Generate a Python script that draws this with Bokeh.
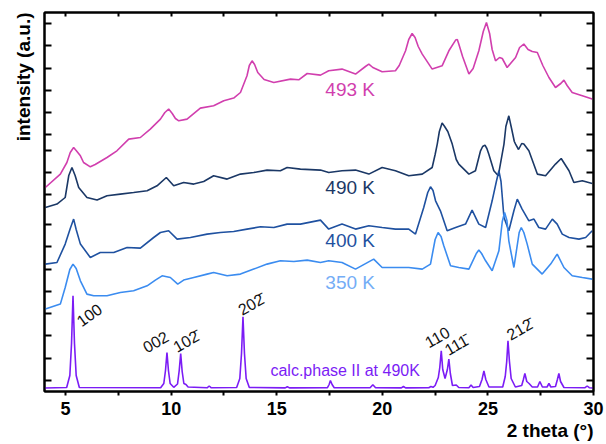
from bokeh.plotting import figure
from bokeh.models import LinearAxis, FixedTicker, Range1d, Label, Title
from bokeh.embed import file_html
from bokeh.resources import INLINE

# ---- data (2 theta in degrees, intensity in a.u., stacked as plotted) ----
x_493 = [4.04, 4.75, 5.06, 5.22, 5.38, 5.50, 5.70, 5.85, 6.17, 6.40, 6.96, 7.43, 7.99, 8.54, 9.01, 9.49,
         9.70, 9.88, 10.05, 10.20, 10.36, 10.75, 11.38, 12.01, 12.49, 12.96, 13.28, 13.59, 13.70, 13.83,
         13.95, 14.10, 14.40, 14.86, 15.65, 16.04, 16.44, 17.07, 17.46, 18.09, 18.73, 19.20, 19.36,
         19.55, 19.99, 20.62, 20.80, 21.10, 21.25, 21.41, 21.55, 21.70, 21.89, 22.36, 22.83, 23.15,
         23.47, 23.55, 23.62, 23.80, 24.10, 24.30, 24.57, 24.78, 24.93, 25.08, 25.20, 25.36, 25.55,
         25.68, 25.91, 26.31, 26.50, 26.70, 26.90, 27.10, 27.34, 27.60, 27.89, 28.20, 28.45, 28.60,
         28.75, 28.99, 29.47, 29.94]
y_493 = [20.40, 21.74, 22.90, 23.90, 24.40, 24.10, 23.57, 22.90, 22.47, 22.70, 23.40, 24.07, 25.24, 25.40,
         26.24, 27.24, 27.90, 28.24, 27.80, 27.30, 27.07, 27.24, 28.34, 28.57, 29.07, 29.34, 29.90, 31.57,
         32.60, 33.07, 32.70, 31.90, 31.20, 30.90, 31.24, 31.17, 31.80, 31.64, 32.07, 32.24, 31.74, 32.50,
         32.74, 32.40, 31.97, 32.07, 32.60, 34.07, 35.20, 35.80, 35.40, 34.50, 33.74, 32.24, 32.57, 34.07,
         35.14, 35.20, 34.74, 33.50, 31.74, 32.30, 34.07, 36.00, 36.90, 35.80, 34.20, 33.07, 33.40,
         33.30, 32.40, 33.40, 34.40, 34.74, 34.20, 34.00, 33.90, 32.60, 31.40, 30.40, 30.80, 31.14,
         30.60, 29.90, 29.57, 29.24]

x_490 = [4.04, 4.59, 4.98, 5.15, 5.30, 5.45, 5.62, 6.01, 6.49, 6.96, 7.59, 8.22, 8.86, 9.33, 9.77, 10.12,
         10.59, 11.07, 11.54, 12.01, 12.65, 13.28, 13.91, 14.54, 15.17, 15.49, 16.12, 17.07,
         17.46, 18.09, 18.73, 19.36, 19.99, 20.62, 21.25, 21.89, 22.36, 22.50, 22.60, 22.70, 22.83,
         22.95, 23.10, 23.31, 23.50, 23.62, 24.10, 24.41, 24.65, 24.75, 24.86, 24.95, 25.04, 25.28,
         25.49, 25.76, 25.85, 25.99, 26.12, 26.25, 26.31, 26.45, 26.60, 26.70, 26.94, 27.34, 27.73,
         28.20, 28.47, 28.84, 29.07, 29.47, 29.94]
y_490 = [18.40, 18.74, 19.40, 21.60, 22.40, 21.60, 20.40, 19.40, 19.14, 19.57, 19.74, 19.90, 20.07, 20.57,
         21.40, 20.57, 20.90, 20.74, 21.00, 21.57, 21.24, 21.74, 21.90, 22.14, 22.07, 22.40, 22.24, 22.14,
         21.90, 22.07, 22.14, 21.74, 22.40, 22.07, 21.57, 21.74, 22.40, 23.70, 24.74, 26.00, 26.84,
         26.50, 26.00, 24.74, 23.20, 22.74, 21.74, 22.07, 24.07, 24.50, 24.64, 24.30, 23.74, 22.07,
         21.57, 24.74, 26.50, 27.57, 26.30, 25.00, 24.74, 24.20, 24.80, 24.74, 24.07, 21.74, 21.57,
         22.74, 23.30, 22.07, 20.90, 21.07, 20.80]

x_400 = [4.04, 4.59, 4.98, 5.22, 5.38, 5.50, 5.70, 6.17, 6.64, 7.28, 7.91, 8.54, 9.17, 9.49, 9.88, 10.28,
         10.91, 11.70, 12.33, 12.96, 13.59, 14.23, 14.86, 15.49, 16.12, 17.07,
         17.46, 18.09, 18.73, 19.36, 19.99, 20.62, 21.25, 21.57, 21.96, 22.15, 22.28, 22.40, 22.52,
         22.75, 23.07, 23.47, 23.94, 24.25, 24.57, 24.89, 25.20, 25.40, 25.52, 25.62, 25.76, 25.99,
         26.23, 26.39, 26.62, 26.94, 27.18, 27.41, 27.73, 28.05, 28.28, 28.52, 28.84, 29.31, 29.63,
         29.94]
y_400 = [12.74, 12.90, 14.74, 16.30, 17.24, 16.20, 14.74, 13.40, 13.90, 13.90, 14.40, 14.34, 15.40, 15.90,
         16.07, 15.24, 15.40, 15.74, 15.90, 16.00, 16.24, 16.47, 16.40, 16.74, 16.74, 17.14,
         16.24, 16.74, 16.24, 16.57, 16.40, 16.24, 16.24, 15.74, 18.40, 19.90, 20.47, 20.10, 19.07,
         18.07, 16.07, 16.40, 16.74, 18.14, 16.74, 16.40, 19.07, 21.00, 22.07, 21.00, 17.40, 16.07,
         18.07, 19.24, 18.24, 17.07, 17.24, 16.40, 16.24, 17.24, 16.74, 15.74, 15.40, 15.24, 15.40,
         16.07]

x_350 = [4.04, 4.75, 4.98, 5.20, 5.35, 5.50, 5.70, 6.01, 6.33, 6.96, 7.59, 8.22, 8.86, 9.25, 9.57, 9.96,
         10.31, 10.59, 11.07, 11.70, 12.01, 12.65, 13.28, 13.91, 14.54, 15.17, 15.81, 16.44, 17.07,
         17.46, 18.09, 18.73, 19.59, 19.99, 20.62, 21.25, 21.89, 22.28, 22.50, 22.64, 22.78, 22.91,
         23.23, 23.62, 24.10, 24.45, 24.57, 24.70, 24.89, 25.20, 25.52, 25.68, 25.79, 25.90, 25.99,
         26.23, 26.48, 26.58, 26.70, 26.86, 27.10, 27.57, 27.97, 28.28, 28.60, 28.99, 29.47, 29.94]
y_350 = [8.24, 8.74, 10.40, 12.20, 12.74, 12.30, 11.07, 9.74, 9.57, 9.57, 9.90, 10.07, 10.57, 11.14, 11.57,
         11.40, 10.74, 11.14, 11.40, 11.74, 11.90, 11.57, 11.74, 12.24, 12.74, 13.07, 13.00, 13.14, 12.90,
         13.07, 12.90, 12.24, 13.24, 12.40, 12.40, 12.40, 12.24, 12.74, 15.20, 15.90, 15.50, 14.57,
         12.57, 12.40, 12.24, 13.80, 14.14, 13.80, 13.07, 12.07, 14.07, 17.00, 17.90, 17.10, 15.07,
         12.40, 15.90, 16.40, 15.90, 14.74, 12.74, 11.74, 12.74, 13.74, 12.40, 11.57, 11.40, 11.24]

x_calc = [4.00, 5.05, 5.20, 5.28, 5.35, 5.42, 5.50, 5.65,
          9.50, 9.65, 9.73, 9.80, 9.87, 9.95, 10.12, 10.30, 10.38, 10.45, 10.52, 10.60, 10.70, 10.80,
          11.70, 11.80, 11.90,
          13.10, 13.25, 13.33, 13.40, 13.47, 13.55, 13.70,
          15.40, 15.50, 15.60,
          17.40, 17.48, 17.54, 17.62, 17.72,
          19.42, 19.55, 19.68,
          20.90, 21.00, 21.10,
          22.20, 22.30, 22.40, 22.50, 22.65, 22.72, 22.79, 22.86, 22.97, 23.08, 23.15, 23.22, 23.32,
          23.50, 23.62,
          24.10, 24.20, 24.30,
          24.60, 24.72, 24.81, 24.90, 25.05,
          25.70, 25.82, 25.89, 25.95, 26.02, 26.10, 26.30,
          26.60, 26.68, 26.75, 26.84, 26.95, 27.10,
          27.35, 27.46, 27.58,
          27.80, 27.89, 27.98,
          28.20, 28.29, 28.36, 28.44, 28.60,
          29.60, 29.70, 29.80, 30.00]
y_calc = [0.35, 0.40, 1.60, 4.80, 9.57, 4.80, 1.60, 0.40,
          0.37, 0.80, 2.10, 3.90, 2.10, 0.80, 0.42, 0.75, 2.10, 3.80, 2.00, 0.80, 0.70, 0.45,
          0.37, 0.55, 0.37,
          0.40, 1.30, 3.80, 7.47, 3.80, 1.30, 0.40,
          0.36, 0.48, 0.36,
          0.38, 0.70, 1.10, 0.70, 0.38,
          0.37, 0.67, 0.37,
          0.36, 0.50, 0.36,
          0.38, 0.50, 0.42, 0.60, 1.40, 2.40, 4.07, 2.20, 1.30, 2.20, 3.24, 1.80, 0.60,
          0.65, 0.40,
          0.38, 0.65, 0.40,
          0.50, 1.20, 2.07, 1.20, 0.45,
          0.45, 1.50, 3.00, 5.07, 3.00, 1.30, 0.45,
          0.60, 1.20, 1.80, 1.00, 0.80, 0.45,
          0.45, 1.00, 0.45,
          0.45, 0.80, 0.45,
          0.50, 1.20, 1.80, 1.00, 0.40,
          0.38, 0.55, 0.38, 0.35]

x_ticks = [5, 10, 15, 20, 25, 30]
x_minor_ticks = [7.5, 12.5, 17.5, 22.5, 27.5]
top_ticks = [5, 7.5, 10, 12.5, 15, 17.5, 20, 22.5, 25, 27.5]
y_ticks = [1.14, 3.34, 5.57, 7.8, 10.0, 12.24, 14.47, 16.67, 19.74, 21.94, 24.14, 25.67,
           27.9, 30.14, 32.34, 34.57, 36.8]

series_names = ["493 K", "490 K", "400 K", "350 K"]
hkl_labels = ["100", "002", "10" + "2\u0304", "20" + "2\u0304", "110", "11" + "1\u0304", "21" + "2\u0304"]

# ---- styles ----
c493 = "#d13fae"
c490 = "#1b3866"
c400 = "#1f51a0"
c350 = "#3b8cf0"
c350_lab = "#74adf6"
ccalc = "#7b1cf5"
FONT = "Liberation Sans"

p = figure(frame_width=549, frame_height=379,
           x_range=Range1d(4, 30), y_range=Range1d(0, 37.9),
           output_backend="svg", toolbar_location=None,
           min_border_left=44, min_border_right=13, min_border_top=12, min_border_bottom=53)
p.xgrid.visible = False
p.ygrid.visible = False
p.outline_line_color = "black"
p.outline_line_width = 2
p.background_fill_color = "white"
p.border_fill_color = "white"

xa = p.xaxis[0]
xa.ticker = FixedTicker(ticks=x_ticks, minor_ticks=x_minor_ticks)
xa.axis_line_width = 2
xa.major_tick_in = 0
xa.major_tick_out = 4
xa.minor_tick_in = 0
xa.minor_tick_out = 4
xa.major_tick_line_width = 2
xa.minor_tick_line_width = 2
xa.major_label_text_font = FONT
xa.major_label_text_font_style = "bold"
xa.major_label_text_font_size = "18px"
xa.major_label_text_color = "black"
xa.major_label_standoff = 6


def side_axis(ax, ticks, tin):
    ax.ticker = FixedTicker(ticks=ticks, minor_ticks=[])
    ax.axis_line_width = 2
    ax.major_tick_in = tin
    ax.major_tick_out = 0
    ax.minor_tick_in = 0
    ax.minor_tick_out = 0
    ax.major_tick_line_width = 2
    ax.major_label_text_color = None
    ax.major_label_text_alpha = 0
    ax.major_label_text_font_size = "1px"
    ax.major_label_standoff = 0


side_axis(p.yaxis[0], y_ticks, 7)
ra = LinearAxis()
side_axis(ra, y_ticks, 7)
p.add_layout(ra, "right")
ta = LinearAxis()
side_axis(ta, top_ticks, 4)
p.add_layout(ta, "above")

lw = 1.6
p.line(x_493, y_493, line_color=c493, line_width=lw)
p.line(x_490, y_490, line_color=c490, line_width=lw)
p.line(x_400, y_400, line_color=c400, line_width=lw)
p.line(x_350, y_350, line_color=c350, line_width=lw)
p.line(x_calc, y_calc, line_color=ccalc, line_width=lw)

# series labels
for txt, yy, col in zip(series_names, [30.24, 20.4, 15.07, 10.9], [c493, c490, c400, c350_lab]):
    p.add_layout(Label(x=17.3, y=yy, text=txt, text_color=col, text_font=FONT,
                       text_font_size="19px", text_align="left", text_baseline="middle"))
p.add_layout(Label(x=14.7, y=2.07, text="calc.phase II at 490K", text_color=ccalc, text_font=FONT,
                   text_font_size="16px", text_align="left", text_baseline="middle"))

# hkl labels
hkl_pos = [(5.76, 6.40, 0.62), (8.85, 3.80, 0.52), (10.36, 3.60, 0.52), (13.44, 7.30, 0.52),
           (22.21, 4.30, 0.52), (23.21, 3.30, 0.52), (26.15, 4.80, 0.52)]
for txt, (xx, yy, ang) in zip(hkl_labels, hkl_pos):
    p.add_layout(Label(x=xx, y=yy, text=txt, angle=ang, text_color="#111111", text_font=FONT,
                       text_font_size="16px", text_align="left", text_baseline="bottom"))

# axis titles
p.add_layout(Title(text="2 theta (°)", align="right", text_font=FONT, text_font_style="bold",
                   text_font_size="19px", text_color="black", standoff=0), "below")
p.add_layout(Title(text="intensity (a.u.)", align="right", text_font=FONT,
                   text_font_style="bold", text_font_size="19px", text_color="black", standoff=21), "left")

open("out.html", "w").write(file_html(p, INLINE))
